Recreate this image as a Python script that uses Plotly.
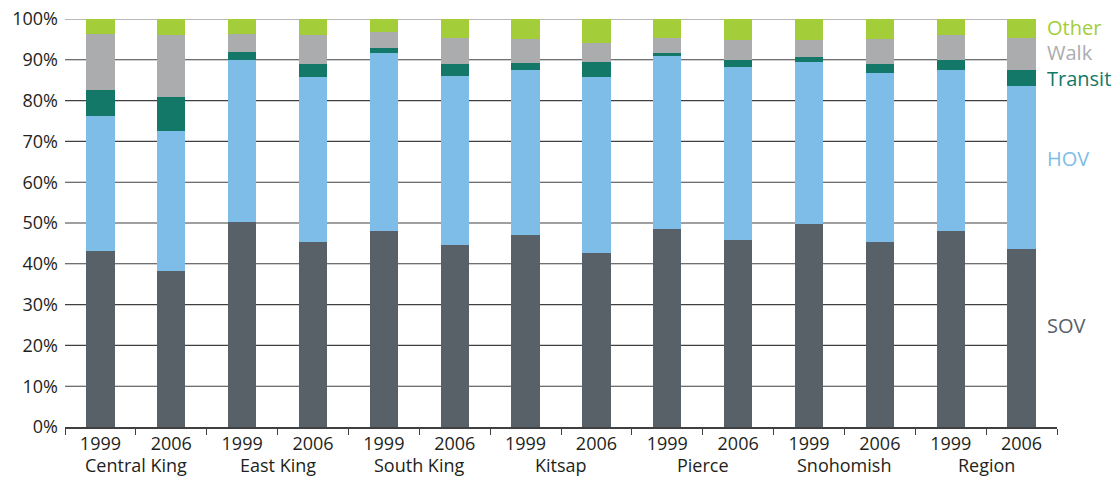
import plotly.graph_objects as go

regions = ["Central King", "East King", "South King", "Kitsap", "Pierce", "Snohomish", "Region"]
years = ["1999", "2006"]

sov = [43.2, 38.2, 50.3, 45.3, 48.0, 44.7, 47.1, 42.7, 48.5, 45.9, 49.8, 45.3, 48.0, 43.6]
hov = [33.0, 34.4, 39.7, 40.5, 43.6, 41.4, 40.3, 43.0, 42.4, 42.3, 39.6, 41.5, 39.5, 40.0]
transit = [6.4, 8.3, 2.0, 3.1, 1.3, 2.9, 1.8, 3.7, 0.8, 1.8, 1.3, 2.2, 2.4, 3.9]
walk = [13.7, 15.3, 4.3, 7.3, 4.0, 6.4, 6.0, 4.6, 3.7, 4.9, 4.2, 6.0, 6.1, 7.9]
other = [3.7, 3.8, 3.7, 3.8, 3.1, 4.6, 4.8, 6.0, 4.6, 5.1, 5.1, 5.0, 4.0, 4.6]

series_names = ["SOV", "HOV", "Transit", "Walk", "Other"]
series_colors = ["#586068", "#7dbde7", "#137868", "#abacae", "#a3cd39"]
label_y = [25.0, 65.9, 85.3, 91.7, 97.8]  # label placement (% units)

y_ticks = [0, 10, 20, 30, 40, 50, 60, 70, 80, 90, 100]

cats = [f"{r}|{y}" for r in regions for y in years]
cat_years = [y for r in regions for y in years]

FONT = "Open Sans"
TXT = "#231f20"
fig = go.Figure()
for name, vals, col in zip(series_names, [sov, hov, transit, walk, other], series_colors):
    fig.add_trace(go.Bar(x=cats, y=vals, name=name, marker=dict(color=col, line=dict(width=0)),
                         showlegend=False))

# gridlines (ending at last bar's right edge)
n = len(cats)
for t in y_ticks:
    if t == 0:
        continue
    fig.add_shape(type="line", xref="x", yref="y", x0=-0.5, x1=n - 1 + 0.2, y0=t, y1=t,
                  line=dict(color="#a0a0a0" if t == 100 else "#404040", width=1.4 if t == 100 else 1.1),
                  layer="below")

# region labels
for i, r in enumerate(regions):
    fig.add_annotation(x=2 * i + 0.5, y=-0.124, xref="x", yref="paper", text=r, showarrow=False,
                       font=dict(family=FONT, size=18, color=TXT), yanchor="bottom", borderpad=0)

# series labels at right
for name, col, ly in zip(series_names, series_colors, label_y):
    fig.add_annotation(x=1.0, xshift=-12, y=ly, xref="paper", yref="y", text=name, showarrow=False,
                       xanchor="left", yanchor="middle",
                       font=dict(family=FONT, size=20, color=col))

fig.update_layout(
    barmode="stack",
    bargap=0.6,
    width=1115, height=479,
    margin=dict(l=65, r=58, t=19, b=52, autoexpand=False),
    plot_bgcolor="white", paper_bgcolor="white",
    font=dict(family=FONT, size=18, color=TXT),
    xaxis=dict(type="category", tickmode="array", tickvals=cats, ticktext=cat_years,
               tickson="boundaries", ticks="outside", ticklen=6, tickcolor="#404040", tickwidth=1.3,
               showline=True, linecolor="#404040", linewidth=1.5, showgrid=False, automargin=False,
               range=[-0.5, n - 0.5], tickfont=dict(family=FONT, size=18, color=TXT)),
    yaxis=dict(range=[0, 100], tickvals=y_ticks, ticktext=[f"{t}%" for t in y_ticks],
               showgrid=False, zeroline=False, showline=False, ticks="", automargin=False,
               ticklabelstandoff=6, tickfont=dict(family=FONT, size=18, color=TXT)),
)

fig.write_html("out.html")
